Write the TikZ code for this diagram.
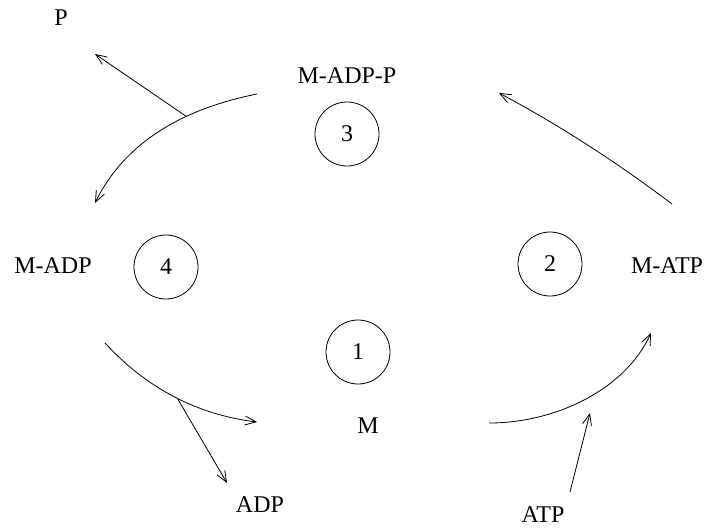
\documentclass[tikz,border=0pt]{standalone}
\usepackage{fontspec}
\setmainfont{Liberation Serif}
\usetikzlibrary{arrows.meta}
\begin{document}
\begin{tikzpicture}[x=1pt,y=-1pt,
  lbl/.style={font=\fontsize{24}{28}\selectfont, inner sep=0pt, anchor=base},
  num/.style={draw, circle, minimum size=64pt, inner sep=0pt, line width=0.8pt, font=\fontsize{24}{28}\selectfont},
  flow/.style={line width=0.8pt, -{Straight Barb[length=11pt,width=9pt]}},
]
\useasboundingbox (0,0) rectangle (706,527);
% labels
\node[lbl] (nP) at (61,26) {P};
\node[lbl] (nMADPP) at (347,83) {M-ADP-P};
\node[lbl] (nMADP) at (53,273) {M-ADP};
\node[lbl] (nMATP) at (667,273) {M-ATP};
\node[lbl] (nM) at (368,433) {M};
\node[lbl] (nADP) at (260,512) {ADP};
\node[lbl] (nATP) at (543,522) {ATP};
% numbered circles
\node[num] (c3) at (347,134) {3};
\node[num] (c4) at (166,267) {4};
\node[num] (c2) at (550,264) {2};
\node[num] (c1) at (358,352) {1};
% curve ends
\coordinate (a1s) at (257,94);   \coordinate (a1e) at (95,203);
\coordinate (a2s) at (105,343);  \coordinate (a2e) at (257,422);
\coordinate (a3s) at (489,423);  \coordinate (a3e) at (651,333);
\coordinate (a4s) at (672,204);  \coordinate (a4e) at (499,93);
\coordinate (pT) at (95,54);
\coordinate (adpT) at (227,483);
\coordinate (atpS) at (570,492);  \coordinate (atpT) at (590,413);
% cycle
\draw[flow] (a1s) .. controls (177,110) and (123,146) .. coordinate[pos=0.33] (b1) (a1e);
\draw[flow] (a2s) .. controls (146.7,388.3) and (197.4,414.7) .. coordinate[pos=0.52] (b2) (a2e);
\draw[flow] (a3s) .. controls (555,423) and (625,390) .. (a3e);
\draw[flow] (a4s) .. controls (617,162.5) and (560,125.5) .. (a4e);
% side arrows
\draw[flow] (b1) -- (pT);
\draw[flow] (b2) -- (adpT);
\draw[flow] (atpS) -- (atpT);
\end{tikzpicture}
\end{document}
